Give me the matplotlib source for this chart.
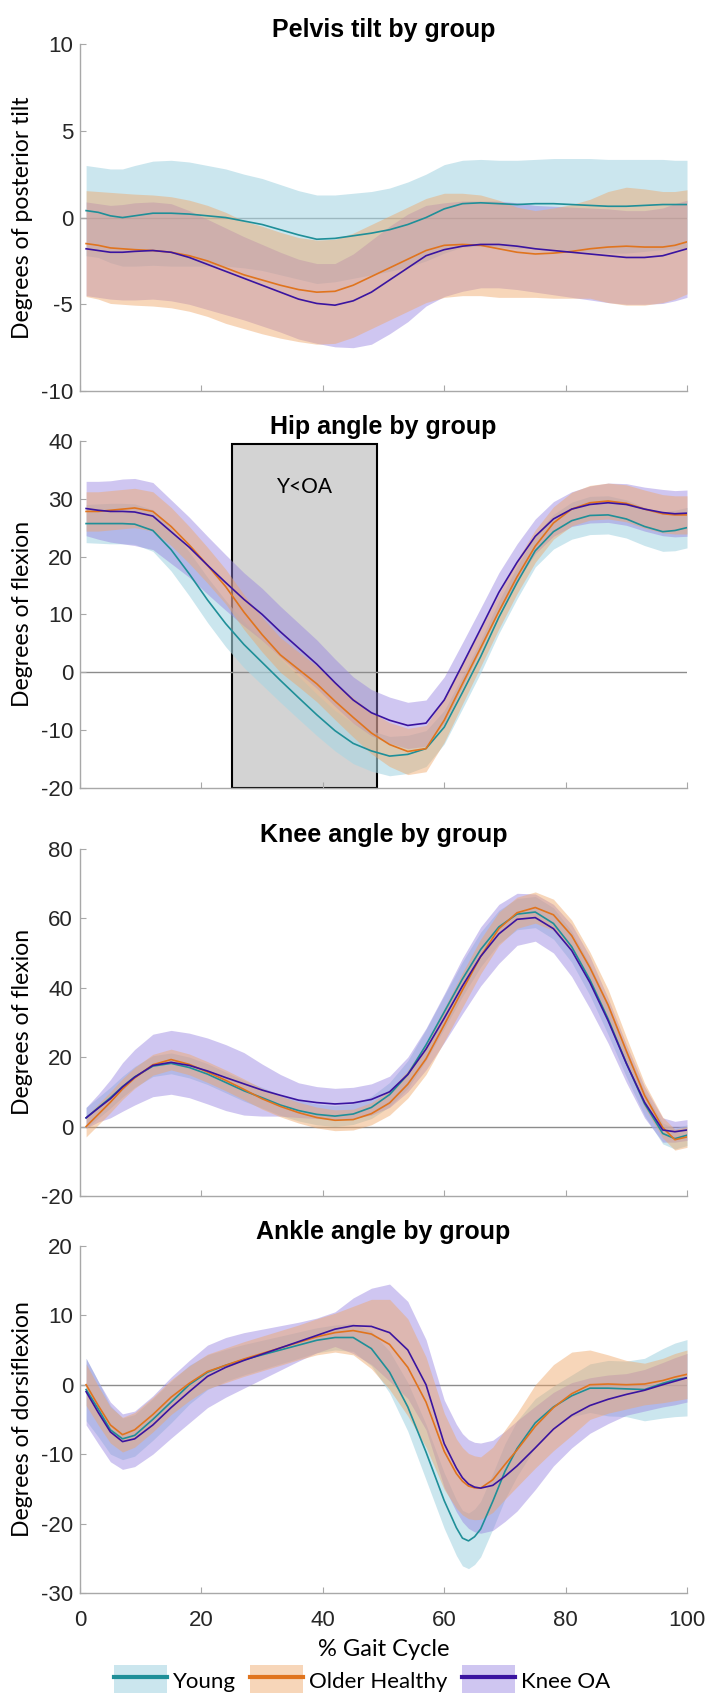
import numpy as np
import matplotlib
matplotlib.use("Agg")
import matplotlib.pyplot as plt
from matplotlib.patches import Patch, Rectangle
from matplotlib.lines import Line2D

plt.rcParams['axes.unicode_minus'] = False

# % gait cycle sample points (pelvis, hip, knee)
gait_x = [1, 3, 5, 7, 9, 12, 15, 18, 21, 24, 27, 30, 33, 36, 39, 42, 45, 48,
          51, 54, 57, 60, 63, 66, 69, 72, 75, 78, 81, 84, 87, 90, 93, 96, 98, 100]
# ankle has a sharp trough, sampled a bit finer around it
ankle_x = [1, 3, 5, 7, 9, 12, 15, 18, 21, 24, 27, 30, 33, 36, 39, 42, 45, 48,
           51, 54, 57, 60, 62, 63, 64, 65, 66, 68, 70, 72, 75, 78, 81, 84, 87, 90, 93, 96, 98, 100]

groups = ['Young', 'Older Healthy', 'Knee OA']

# ---- pelvis tilt (mean, sd)
pelvis_young = [0.4, 0.3, 0.1, 0.0, 0.1, 0.25, 0.25, 0.2, 0.1, 0.0, -0.2, -0.4, -0.7, -1.0, -1.25, -1.2, -1.05, -0.9,
                -0.7, -0.4, 0.0, 0.5, 0.8, 0.85, 0.8, 0.75, 0.8, 0.8, 0.75, 0.7, 0.65, 0.65, 0.7, 0.75, 0.75, 0.75]
pelvis_young_sd = [2.6, 2.6, 2.7, 2.8, 2.9, 3.0, 3.05, 3.0, 2.9, 2.8, 2.7, 2.65, 2.6, 2.55, 2.55, 2.5, 2.45, 2.4,
                   2.4, 2.45, 2.5, 2.55, 2.5, 2.5, 2.5, 2.55, 2.55, 2.6, 2.65, 2.7, 2.7, 2.7, 2.65, 2.6, 2.55, 2.55]
pelvis_older = [-1.5, -1.6, -1.75, -1.8, -1.85, -1.9, -2.0, -2.2, -2.5, -2.9, -3.3, -3.6, -3.9, -4.15, -4.3, -4.25, -3.9, -3.4,
                -2.9, -2.4, -1.9, -1.6, -1.55, -1.6, -1.8, -2.0, -2.1, -2.05, -1.95, -1.8, -1.7, -1.65, -1.7, -1.7, -1.6, -1.4]
pelvis_older_sd = [3.05, 3.1, 3.2, 3.2, 3.2, 3.2, 3.2, 3.2, 3.2, 3.2, 3.1, 3.1, 3.05, 3.0, 3.0, 3.0, 3.0, 3.0,
                   3.0, 3.0, 3.0, 3.0, 2.95, 2.9, 2.8, 2.6, 2.5, 2.6, 2.7, 2.85, 3.2, 3.4, 3.35, 3.2, 3.1, 3.0]
pelvis_koa = [-1.8, -1.9, -2.0, -2.0, -1.95, -1.9, -2.0, -2.3, -2.7, -3.1, -3.5, -3.9, -4.3, -4.7, -4.95, -5.05, -4.8, -4.3,
              -3.6, -2.9, -2.2, -1.85, -1.65, -1.55, -1.55, -1.65, -1.8, -1.9, -2.0, -2.1, -2.2, -2.3, -2.3, -2.2, -2.0, -1.8]
pelvis_koa_sd = [2.7, 2.7, 2.7, 2.75, 2.8, 2.8, 2.8, 2.7, 2.6, 2.5, 2.4, 2.35, 2.3, 2.3, 2.3, 2.4, 2.7, 3.0,
                 3.1, 3.1, 2.9, 2.7, 2.6, 2.5, 2.5, 2.5, 2.5, 2.55, 2.6, 2.65, 2.7, 2.7, 2.7, 2.75, 2.8, 2.8]

# ---- hip angle
hip_young = [25.7, 25.7, 25.7, 25.7, 25.6, 24.5, 21.2, 17.0, 12.5, 8.4, 4.8, 1.7, -1.4, -4.4, -7.35, -10.1, -12.3, -13.6,
             -14.5, -14.2, -13.2, -9.5, -3.5, 2.7, 9.5, 15.5, 21.0, 24.3, 26.2, 27.1, 27.2, 26.5, 25.2, 24.3, 24.5, 25.0]
hip_young_sd = [3.3, 3.4, 3.5, 3.5, 3.5, 3.6, 3.7, 3.8, 3.9, 4.0, 4.0, 3.9, 3.8, 3.7, 3.6, 3.5, 3.5, 3.5,
                3.4, 3.3, 3.1, 2.9, 2.8, 2.8, 2.8, 2.8, 2.8, 3.0, 3.2, 3.3, 3.3, 3.3, 3.3, 3.4, 3.5, 3.5]
hip_older = [27.8, 27.8, 28.0, 28.2, 28.4, 27.8, 25.2, 22.0, 18.5, 14.8, 10.4, 6.5, 3.0, 0.5, -2.0, -5.0, -7.8, -10.5,
             -12.5, -13.7, -13.2, -8.3, -2.0, 4.2, 10.5, 16.5, 21.8, 25.8, 28.2, 29.3, 29.6, 29.2, 28.2, 27.4, 27.2, 27.2]
hip_older_sd = [3.4, 3.4, 3.4, 3.4, 3.4, 3.4, 3.3, 3.2, 3.1, 3.0, 3.0, 3.0, 3.0, 3.0, 3.1, 3.2, 3.4, 3.6,
                3.8, 4.0, 4.0, 3.8, 3.5, 3.2, 3.0, 2.9, 2.8, 2.8, 2.9, 3.0, 3.1, 3.2, 3.3, 3.3, 3.3, 3.3]
hip_koa = [28.3, 28.0, 27.8, 27.8, 27.7, 27.0, 24.3, 21.6, 18.5, 15.5, 12.6, 10.0, 7.0, 4.2, 1.4, -1.8, -4.8, -7.0,
           -8.3, -9.2, -8.8, -4.8, 1.3, 7.5, 13.8, 19.0, 23.5, 26.5, 28.2, 29.0, 29.3, 29.0, 28.2, 27.6, 27.4, 27.5]
hip_koa_sd = [4.7, 5.0, 5.3, 5.6, 5.8, 5.8, 5.5, 5.2, 5.0, 4.8, 4.6, 4.5, 4.4, 4.3, 4.2, 4.1, 4.0, 4.0,
              4.0, 4.0, 4.0, 4.0, 3.8, 3.6, 3.4, 3.2, 3.0, 3.0, 3.0, 3.2, 3.4, 3.6, 3.8, 4.0, 4.0, 4.0]

# ---- knee angle
knee_young = [2.5, 5.4, 8.3, 11.5, 14.3, 17.4, 18.2, 17.0, 15.1, 12.7, 10.3, 8.3, 6.2, 4.6, 3.5, 3.0, 3.6, 5.5,
              9.2, 15.0, 23.5, 33.0, 42.5, 51.0, 57.5, 61.2, 61.8, 58.5, 51.8, 42.3, 31.0, 18.3, 6.6, -2.0, -3.5, -2.5]
knee_young_sd = [3.0, 3.0, 3.0, 3.0, 3.0, 3.0, 3.0, 3.0, 3.0, 3.0, 3.0, 3.0, 3.0, 3.0, 3.0, 3.0, 3.0, 3.2,
                 3.5, 4.0, 4.5, 4.8, 5.0, 5.0, 4.8, 4.5, 4.5, 4.5, 4.5, 4.5, 4.5, 4.0, 3.5, 3.0, 3.0, 3.0]
knee_older = [0.0, 3.5, 7.0, 10.8, 14.0, 17.8, 19.3, 17.9, 15.7, 13.3, 10.7, 8.0, 5.8, 4.0, 2.6, 1.8, 2.0, 3.7,
              6.8, 12.2, 19.5, 29.3, 39.3, 49.0, 57.0, 61.6, 63.1, 61.0, 55.0, 45.8, 35.0, 21.8, 9.0, -0.3, -3.8, -3.0]
knee_older_sd = [3.0, 3.0, 3.0, 3.0, 3.0, 3.0, 3.0, 3.0, 3.0, 3.0, 3.0, 3.0, 3.0, 3.0, 3.0, 3.0, 3.0, 3.2,
                 3.5, 4.0, 4.5, 4.8, 5.0, 5.0, 4.8, 4.5, 4.5, 4.5, 4.5, 4.5, 4.5, 4.0, 3.5, 3.0, 3.0, 3.0]
knee_koa = [2.5, 5.3, 8.0, 11.4, 14.2, 17.6, 18.5, 17.6, 16.0, 14.1, 12.3, 10.5, 9.0, 7.6, 6.9, 6.5, 6.8, 7.8,
            10.0, 15.0, 22.3, 31.2, 40.5, 49.0, 55.5, 59.7, 60.2, 57.0, 50.7, 41.5, 30.5, 18.2, 7.0, -1.0, -1.5, -1.0]
knee_koa_sd = [3.0, 4.0, 5.5, 7.0, 8.0, 9.0, 9.2, 9.3, 9.5, 9.5, 9.0, 7.5, 6.0, 5.0, 4.6, 4.5, 4.5, 4.5,
               4.5, 5.0, 6.0, 7.0, 8.0, 8.5, 8.5, 7.5, 6.8, 7.0, 7.5, 7.5, 6.5, 5.5, 4.5, 3.5, 3.0, 3.0]

# ---- ankle angle (on ankle_x)
ankle_young = [-0.7, -3.5, -6.5, -7.8, -7.3, -5.0, -2.5, 0.0, 1.8, 2.8, 3.6, 4.3, 5.0, 5.7, 6.4, 6.8, 6.8, 5.2,
               1.8, -3.2, -9.7, -16.7, -20.6, -22.1, -22.5, -21.9, -20.8, -16.8, -12.5, -9.2, -5.5, -3.2, -1.6,
               -0.5, -0.5, -0.6, -0.7, 0.2, 0.7, 1.0]
ankle_young_sd = [4.5, 4.0, 3.5, 3.0, 3.0, 3.0, 3.0, 2.8, 2.5, 2.3, 2.2, 2.1, 2.0, 1.9, 1.8, 1.8, 2.0, 2.5,
                  3.0, 3.5, 4.0, 4.0, 4.0, 4.0, 4.0, 4.0, 4.0, 4.0, 4.0, 4.0, 3.5, 3.0, 3.0, 3.5, 4.0, 4.0,
                  4.5, 5.0, 5.3, 5.5]
ankle_older = [0.0, -3.0, -5.8, -7.2, -6.5, -4.3, -1.8, 0.2, 1.9, 2.8, 3.7, 4.5, 5.3, 6.1, 6.9, 7.5, 7.8, 7.3,
               5.8, 2.5, -2.5, -9.6, -12.8, -13.9, -14.6, -14.85, -14.9, -13.7, -11.5, -9.4, -6.0, -3.3, -1.3,
               0.0, 0.1, 0.0, 0.1, 0.6, 1.1, 1.5]
ankle_older_sd = [3.0, 2.8, 2.6, 2.5, 2.5, 2.5, 2.5, 2.5, 2.5, 2.5, 2.5, 2.5, 2.5, 2.5, 2.6, 2.8, 3.5, 5.0,
                  6.5, 7.0, 6.5, 5.5, 5.0, 4.85, 4.7, 4.6, 4.5, 4.7, 5.0, 5.3, 6.0, 6.2, 6.0, 5.0, 4.2, 3.5,
                  3.0, 3.2, 3.4, 3.5]
ankle_koa = [-1.0, -4.0, -6.8, -8.2, -7.8, -5.8, -3.3, -1.0, 1.2, 2.5, 3.5, 4.4, 5.3, 6.2, 7.1, 8.0, 8.5, 8.4,
             7.5, 5.0, 0.0, -8.5, -12.0, -13.4, -14.3, -14.75, -14.9, -14.5, -13.2, -11.7, -9.1, -6.4, -4.4,
             -3.0, -2.1, -1.4, -0.8, 0.0, 0.5, 1.0]
ankle_koa_sd = [4.8, 4.5, 4.3, 4.0, 4.0, 4.2, 4.4, 4.5, 4.5, 4.3, 4.0, 3.6, 3.2, 2.8, 2.5, 2.5, 4.0, 5.5,
                7.0, 7.0, 6.5, 6.3, 6.3, 6.35, 6.4, 6.45, 6.5, 6.5, 6.5, 6.5, 6.0, 5.3, 4.7, 4.0, 3.5, 3.0,
                3.0, 3.2, 3.4, 3.5]

titles = ['Pelvis tilt by group', 'Hip angle by group', 'Knee angle by group', 'Ankle angle by group']
ylabels = ['Degrees of posterior tilt', 'Degrees of flexion', 'Degrees of flexion', 'Degrees of dorsiflexion']
ylims = [(-10, 10), (-20, 40), (-20, 80), (-30, 20)]
yticks = [[-10, -5, 0, 5, 10], [-20, -10, 0, 10, 20, 30, 40], [-20, 0, 20, 40, 60, 80], [-30, -20, -10, 0, 10, 20]]
xticks = [0, 20, 40, 60, 80, 100]

panel_x = [gait_x, gait_x, gait_x, ankle_x]
panels = [
    [(pelvis_young, pelvis_young_sd), (pelvis_older, pelvis_older_sd), (pelvis_koa, pelvis_koa_sd)],
    [(hip_young, hip_young_sd), (hip_older, hip_older_sd), (hip_koa, hip_koa_sd)],
    [(knee_young, knee_young_sd), (knee_older, knee_older_sd), (knee_koa, knee_koa_sd)],
    [(ankle_young, ankle_young_sd), (ankle_older, ankle_older_sd), (ankle_koa, ankle_koa_sd)],
]

# significance box on hip panel
sig_start, sig_end, sig_label = 25, 49, 'Y<OA'

line_colors = ['#1f8f98', '#e0741e', '#3a14a0']
fill_colors = ['#a9d6e3', '#efa565', '#9682e0']
fill_alpha = [0.6, 0.45, 0.45]
fill_order = [0, 2, 1]   # young, knee OA, then older healthy on top

tick_font = ['Liberation Sans', 'DejaVu Sans']
text_font = ['Lato', 'DejaVu Sans']

fig = plt.figure(figsize=(7.12, 16.93), dpi=100)
bottoms = [0.769, 0.5346, 0.2936, 0.0591]
axes = []
for i in range(4):
    ax = fig.add_axes([0.1124, bottoms[i], 0.8525, 0.205])
    axes.append(ax)
    x = np.array(panel_x[i])
    ax.axhline(0, color='#8c8c8c', lw=1.0, zorder=0.8)
    for k, g in enumerate(fill_order):
        m = np.array(panels[i][g][0])
        sd = np.array(panels[i][g][1])
        ax.fill_between(x, m - sd, m + sd, color=fill_colors[g], alpha=fill_alpha[g],
                        lw=0, zorder=1 + k)
    for g in range(3):
        ax.plot(x, panels[i][g][0], color=line_colors[g], lw=1.2, zorder=5 + g)

    ax.set_xlim(0, 100)
    ax.set_ylim(*ylims[i])
    ax.set_yticks(yticks[i])
    ax.set_xticks(xticks)
    for s in ['top', 'right']:
        ax.spines[s].set_visible(False)
    for s in ['left', 'bottom']:
        ax.spines[s].set_color('#a8a8a8')
        ax.spines[s].set_linewidth(1.0)
    ax.tick_params(direction='in', length=4, color='#a8a8a8', labelcolor='#262626', labelsize=16)
    ax.tick_params(axis='y', pad=5)
    ax.tick_params(axis='x', pad=12)
    for lab in ax.get_yticklabels() + ax.get_xticklabels():
        lab.set_family(tick_font)
    if i < 3:
        ax.set_xticklabels([])
    ax.set_title(titles[i], fontsize=18, fontweight='bold', family=tick_font, pad=5)
    ax.set_ylabel(ylabels[i], fontsize=16.6, family=text_font, color='black')
    ax.yaxis.set_label_coords(-0.077, 0.5)

# hip significance region
hip_ax = axes[1]
hip_ax.add_patch(Rectangle((sig_start, -20), sig_end - sig_start, 59.5, facecolor='#d3d3d3',
                           edgecolor='black', lw=1.5, zorder=0.5, clip_on=False))
hip_ax.text((sig_start + sig_end) / 2, 32, sig_label, ha='center', va='center',
            fontsize=15, family=text_font, zorder=10)

axes[3].set_xlabel('% Gait Cycle', fontsize=17, family=text_font, labelpad=6)

handles = [(Patch(facecolor=fill_colors[g], alpha=fill_alpha[g], lw=0),
            Line2D([], [], color=line_colors[g], lw=3)) for g in range(3)]
fig.legend(handles, groups, loc='center', bbox_to_anchor=(0.508, 0.007), ncol=3, frameon=False,
           prop={'family': text_font, 'size': 16}, handlelength=2.4, handleheight=1.8,
           handletextpad=0.25, columnspacing=0.65)

fig.savefig('out.png', dpi=100)
